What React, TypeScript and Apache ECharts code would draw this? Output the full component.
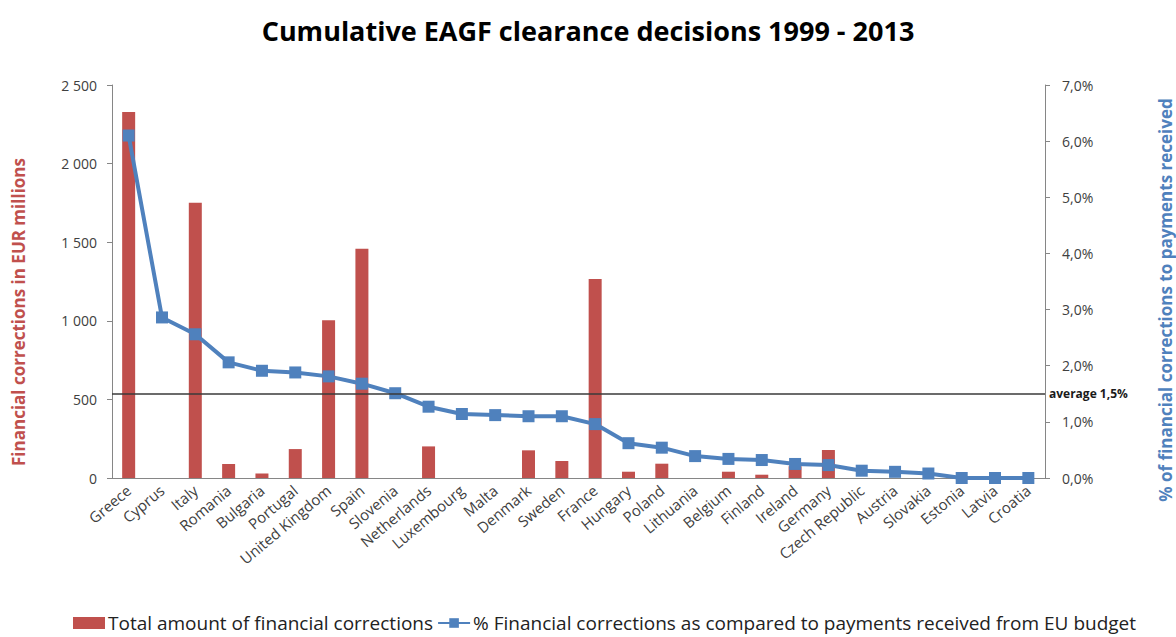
import React, { useEffect, useRef } from "react";
import * as echarts from "echarts";

const countries = [
  "Greece", "Cyprus", "Italy", "Romania", "Bulgaria", "Portugal", "United Kingdom",
  "Spain", "Slovenia", "Netherlands", "Luxembourg", "Malta", "Denmark", "Sweden",
  "France", "Hungary", "Poland", "Lithuania", "Belgium", "Finland", "Ireland",
  "Germany", "Czech Republic", "Austria", "Slovakia", "Estonia", "Latvia", "Croatia",
];

const corrections = [
  2329, 0, 1751, 89, 28, 184, 1003, 1459, 0, 201, 0, 0, 176, 108,
  1266, 40, 91, 0, 40, 21, 75, 178, 0, 0, 0, 0, 0, 0,
];

const percentOfPayments = [
  6.1, 2.86, 2.56, 2.06, 1.91, 1.88, 1.81, 1.68, 1.51, 1.27, 1.14, 1.12, 1.1, 1.1,
  0.96, 0.62, 0.54, 0.39, 0.34, 0.32, 0.25, 0.23, 0.13, 0.11, 0.08, 0, 0, 0,
];

const averagePercent = 1.5;

const TITLE = "Cumulative EAGF clearance decisions 1999 - 2013";
const LEFT_NAME = "Financial corrections in EUR millions";
const RIGHT_NAME = "% of financial corrections to payments received";
const BAR_NAME = "Total amount of financial corrections";
const LINE_NAME = "% Financial corrections as compared to payments received from EU budget";

const RED = "#C0504D";
const BLUE = "#4F81BD";
const FONT = "'Open Sans', 'Noto Sans', sans-serif";

export default function App() {
  const ref = useRef<HTMLDivElement>(null);

  useEffect(() => {
    if (!ref.current) return;
    const chart = echarts.init(ref.current, null, { renderer: "svg" });
    chart.setOption({
      animation: false,
      backgroundColor: "#ffffff",
      textStyle: { fontFamily: FONT },
      title: {
        text: TITLE,
        left: "center",
        top: 12,
        textStyle: { fontFamily: FONT, fontSize: 27, fontWeight: "bold", color: "#000" },
      },
      grid: { left: 112, right: 131, top: 85, bottom: 159, containLabel: false },
      legend: {
        left: 68,
        top: 607,
        itemWidth: 32,
        itemHeight: 12,
        itemGap: 4,
        textStyle: { fontFamily: FONT, fontSize: 19, lineHeight: 22, color: "#222", padding: [0, 0, 0, -2] },
        data: [
          { name: BAR_NAME, icon: "rect" },
          { name: LINE_NAME },
        ],
      },
      graphic: [
        {
          type: "text",
          x: 18,
          y: 312,
          rotation: Math.PI / 2,
          style: {
            text: LEFT_NAME,
            fill: RED,
            font: `bold 17px ${FONT}`,
            textAlign: "center",
            textVerticalAlign: "middle",
          },
        },
        {
          type: "text",
          x: 1165,
          y: 300,
          rotation: Math.PI / 2,
          style: {
            text: RIGHT_NAME,
            fill: BLUE,
            font: `bold 17px ${FONT}`,
            textAlign: "center",
            textVerticalAlign: "middle",
          },
        },
      ],
      xAxis: {
        type: "category",
        data: countries,
        axisLine: { lineStyle: { color: "#868686", width: 1 } },
        axisTick: { show: false },
        axisLabel: {
          rotate: 40,
          interval: 0,
          margin: 10,
          fontFamily: FONT,
          fontSize: 15,
          color: "#404040",
        },
      },
      yAxis: [
        {
          type: "value",
          min: 0,
          max: 2500,
          interval: 500,
          position: "left",
          splitLine: { show: false },
          axisLine: { show: true, lineStyle: { color: "#868686" } },
          axisTick: { show: true, length: 5, lineStyle: { color: "#868686" } },
          axisLabel: {
            margin: 15,
            fontFamily: FONT,
            fontSize: 14,
            color: "#404040",
            formatter: (v: number) => String(v).replace(/\B(?=(\d{3})+(?!\d))/g, " "),
          },
        },
        {
          type: "value",
          min: 0,
          max: 7,
          interval: 1,
          position: "right",
          splitLine: { show: false },
          axisLine: { show: true, lineStyle: { color: "#868686" } },
          axisTick: { show: true, length: 5, lineStyle: { color: "#868686" } },
          axisLabel: {
            margin: 17,
            fontFamily: FONT,
            fontSize: 14,
            color: "#404040",
            formatter: (v: number) => v.toFixed(1).replace(".", ",") + "%",
          },
        },
      ],
      series: [
        {
          name: BAR_NAME,
          type: "bar",
          yAxisIndex: 0,
          data: corrections,
          barWidth: 13,
          itemStyle: { color: RED },
        },
        {
          name: LINE_NAME,
          type: "line",
          yAxisIndex: 1,
          data: percentOfPayments,
          symbol: "rect",
          symbolSize: 12,
          lineStyle: { color: BLUE, width: 4 },
          itemStyle: { color: BLUE },
          z: 3,
          markLine: {
            silent: true,
            symbol: "none",
            lineStyle: { color: "#3a3a3a", width: 1.5, type: "solid" },
            label: {
              show: true,
              position: "end",
              distance: 4,
              formatter: "average 1,5%",
              fontFamily: FONT,
              fontSize: 12,
              fontWeight: "bold",
              color: "#1a1a1a",
            },
            data: [{ yAxis: averagePercent }],
          },
        },
      ],
    });
    return () => chart.dispose();
  }, []);

  return (
    <div
      ref={ref}
      style={{ position: "fixed", left: 0, top: 0, width: 1176, height: 637 }}
    />
  );
}
